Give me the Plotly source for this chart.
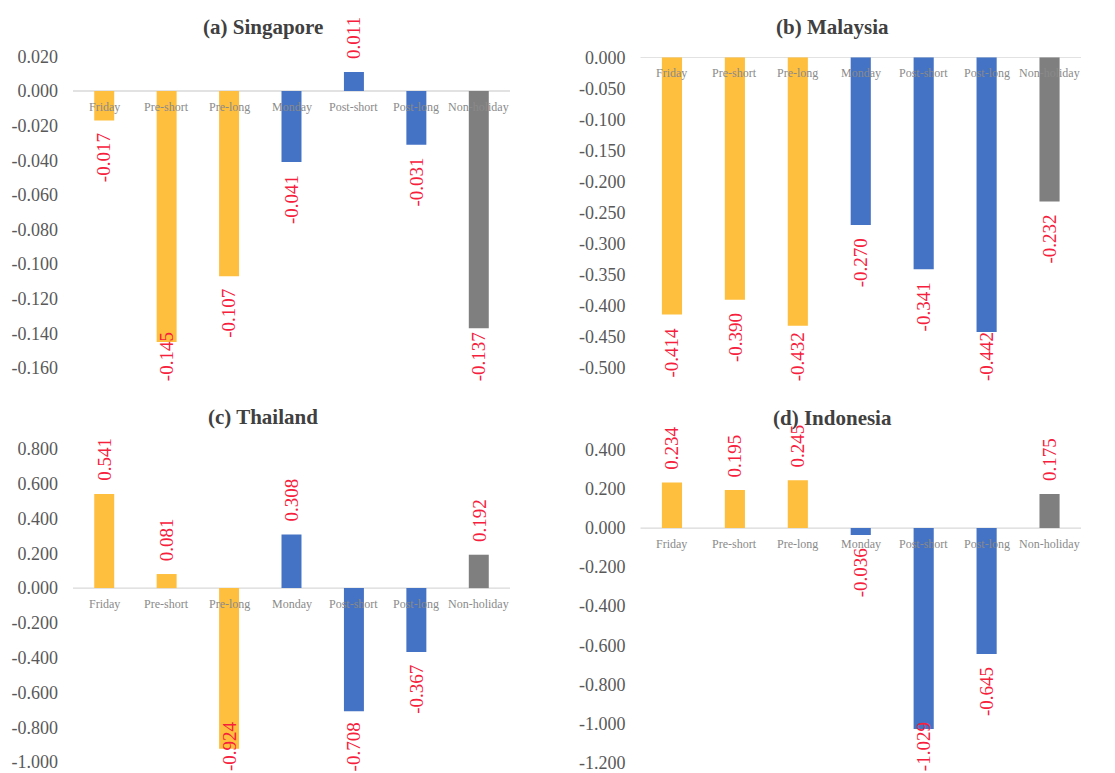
import plotly.graph_objects as go

# ---- data -------------------------------------------------------------
categories = ["Friday", "Pre-short", "Pre-long", "Monday",
              "Post-short", "Post-long", "Non-holiday"]

singapore = [-0.017, -0.145, -0.107, -0.041, 0.011, -0.031, -0.137]
malaysia = [-0.414, -0.390, -0.432, -0.270, -0.341, -0.442, -0.232]
thailand = [0.541, 0.081, -0.924, 0.308, -0.708, -0.367, 0.192]
indonesia = [0.234, 0.195, 0.245, -0.036, -1.029, -0.645, 0.175]

singapore_ticks = [0.02, 0.0, -0.02, -0.04, -0.06, -0.08, -0.10, -0.12, -0.14, -0.16]
malaysia_ticks = [0.0, -0.05, -0.10, -0.15, -0.20, -0.25, -0.30, -0.35, -0.40, -0.45, -0.50]
thailand_ticks = [0.8, 0.6, 0.4, 0.2, 0.0, -0.2, -0.4, -0.6, -0.8, -1.0]
indonesia_ticks = [0.4, 0.2, 0.0, -0.2, -0.4, -0.6, -0.8, -1.0, -1.2]

titles = ["(a) Singapore", "(b) Malaysia", "(c) Thailand", "(d) Indonesia"]

# ---- styling ----------------------------------------------------------
W, H = 1115, 773
FONT = "Liberation Serif"
YELLOW, BLUE, GREY = "#FFBF3E", "#4472C4", "#7F7F7F"
bar_colors = [YELLOW, YELLOW, YELLOW, BLUE, BLUE, BLUE, GREY]
LABEL_RED = "#F7203C"
LABEL_SIZE = 19

# plot-area boxes in pixels: (left, right, top, bottom), title centre
panels = [
    dict(vals=singapore, ticks=singapore_ticks, box=(73, 510, 56.4, 368), title_xy=(263, 27), limit=383),
    dict(vals=malaysia, ticks=malaysia_ticks, box=(640.5, 1081, 57.3, 368), title_xy=(832, 27), limit=383),
    dict(vals=thailand, ticks=thailand_ticks, box=(73, 510, 449, 762), title_xy=(263, 417), limit=773),
    dict(vals=indonesia, ticks=indonesia_ticks, box=(640.5, 1081, 450, 762.3), title_xy=(832, 418), limit=773),
]


def fmt(v):
    return f"{v:.3f}".replace("-0.000", "0.000")


def text_len(s, size):
    widths = {".": 0.25, "-": 0.333}
    return sum(widths.get(c, 0.5) for c in s) * size + 4


fig = go.Figure()
annotations = []
shapes = []
GAP = 11

for i, p in enumerate(panels):
    n = "" if i == 0 else str(i + 1)
    xa, ya = "x" + n, "y" + n
    left, right, top, bottom = p["box"]
    ymax, ymin = max(p["ticks"]), min(p["ticks"])
    ppu = (bottom - top) / (ymax - ymin)
    zero_px = top + ymax * ppu

    fig.add_trace(go.Bar(
        x=categories, y=p["vals"], marker=dict(color=bar_colors, line=dict(width=0)),
        xaxis=xa, yaxis=ya, hoverinfo="skip", showlegend=False,
    ))

    fig.update_layout(**{
        ("xaxis" + n): dict(
            domain=[left / W, right / W], anchor=ya, type="category",
            range=[-0.5, 6.5], showticklabels=False, showgrid=False,
            zeroline=False, showline=False, ticks="", automargin=False,
        ),
        ("yaxis" + n): dict(
            domain=[1 - bottom / H, 1 - top / H], anchor=xa,
            range=[ymin, ymax], tickvals=p["ticks"],
            ticktext=[fmt(t) for t in p["ticks"]],
            tickfont=dict(family=FONT, size=18, color="#595959"),
            showgrid=False, zeroline=False, showline=False, ticks="",
            ticklabelstandoff=14, automargin=False,
        ),
    })

    # horizontal category axis line at zero
    shapes.append(dict(
        type="line", xref=xa + " domain", yref=ya, x0=0, x1=1, y0=0, y1=0,
        line=dict(color="#D9D9D9", width=1.3), layer="below",
    ))

    # category labels sitting just under the zero line
    for c in categories:
        annotations.append(dict(
            x=c, y=0, xref=xa, yref=ya, text=c, showarrow=False,
            yanchor="middle", yshift=-16,
            font=dict(family=FONT, size=12, color="#8A8A8A"),
        ))

    # value labels, rotated, outside the bar end and kept inside the chart area
    for c, v in zip(categories, p["vals"]):
        s = fmt(v)
        L = text_len(s, LABEL_SIZE)
        end_px = zero_px - v * ppu
        ann = dict(
            x=c, xref=xa, text=s, showarrow=False, textangle=-90,
            font=dict(family=FONT, size=LABEL_SIZE, color=LABEL_RED),
        )
        if v < 0:
            if end_px + GAP + L > p["limit"]:
                ann.update(y=1 - p["limit"] / H, yref="paper", yanchor="bottom")
            else:
                ann.update(y=v, yref=ya, yanchor="top", yshift=-GAP)
        else:
            ann.update(y=v, yref=ya, yanchor="bottom", yshift=GAP)
        annotations.append(ann)

    tx, ty = p["title_xy"]
    annotations.append(dict(
        x=tx / W, y=1 - ty / H, xref="paper", yref="paper", text="<b>%s</b>" % titles[i],
        showarrow=False, xanchor="center", yanchor="middle",
        font=dict(family=FONT, size=21, color="#404040"),
    ))

fig.update_layout(
    width=W, height=H, margin=dict(l=0, r=0, t=0, b=0, autoexpand=False),
    paper_bgcolor="white", plot_bgcolor="white",
    bargap=0.68, showlegend=False,
    annotations=annotations, shapes=shapes,
)

fig.write_html("out.html")
